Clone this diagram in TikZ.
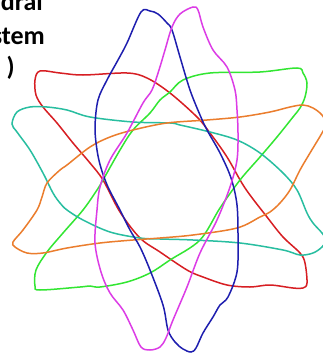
\documentclass[tikz,border=0pt]{standalone}
\usepackage{fontspec}
\setmainfont{Carlito}
\definecolor{cred}{RGB}{215,30,35}
\definecolor{cblue}{RGB}{30,30,175}
\definecolor{cmag}{RGB}{220,60,230}
\definecolor{cgreen}{RGB}{50,230,50}
\definecolor{ccyan}{RGB}{40,190,160}
\definecolor{corange}{RGB}{235,125,45}
\tikzset{lbl/.style={inner sep=0pt, anchor=base east, font=\fontsize{26}{31}\selectfont\bfseries}}
\begin{document}
\begin{tikzpicture}[x=1pt,y=-1pt]
\useasboundingbox (0,0) rectangle (322,353);
\fill[white] (0,0) rectangle (322,353);
\node[lbl] (t1) at (43,11) {edral};
\node[lbl] (t2) at (45,45) {stem};
\node[lbl] (t3) at (15,75) {)};
% red
\draw[cred, line width=1.5pt] plot[smooth cycle, tension=0.55] coordinates {(40,71) (60,73) (83,75) (127,73) (147,78) (170,93) (197,117) (210,133) (227,157) (245,188) (267,217) (283,237) (300,253) (305,263) (307,283) (303,288) (293,288) (270,285) (250,287) (227,285) (203,277) (187,270) (160,252) (140,238) (120,212) (103,180) (90,163) (73,143) (57,123) (43,107) (36,95) (35,80)};
% green
\draw[cgreen, line width=1.5pt] plot[smooth cycle, tension=0.55] coordinates {(297,68) (303,73) (307,83) (305,97) (300,108) (293,117) (277,137) (260,157) (240,180) (220,208) (200,240) (170,260) (150,273) (127,282) (100,287) (90,286) (80,287) (40,290) (35,286) (36,270) (47,252) (63,233) (83,210) (97,190) (103,180) (120,150) (133,130) (150,113) (160,100) (170,92) (183,80) (210,73) (260,72)};
% cyan
\draw[ccyan, line width=1.5pt] plot[smooth cycle, tension=0.55] coordinates {(12,124) (17,112) (30,107) (47,107) (67,110) (90,117) (133,122) (170,123) (180,125) (210,132) (237,140) (260,153) (283,173) (297,190) (307,213) (313,223) (322,233) (326,240) (322,247) (313,253) (300,255) (283,250) (240,243) (193,240) (160,239) (140,238) (110,232) (83,220) (67,210) (60,203) (53,193) (43,173) (30,150) (17,132)};
% orange
\draw[corange, line width=1.5pt] plot[smooth cycle, tension=0.55] coordinates {(13,242) (23,230) (37,210) (42,197) (47,183) (60,170) (67,165) (90,147) (110,137) (133,130) (167,123) (207,120) (240,117) (270,112) (290,107) (303,105) (313,108) (322,115) (326,124) (322,133) (310,153) (300,170) (290,190) (280,203) (270,212) (260,217) (237,228) (193,235) (160,238) (133,240) (100,243) (67,248) (43,253) (27,253) (15,247)};
% blue
\draw[cblue, line width=1.5pt] plot[smooth cycle, tension=0.55] coordinates {(141,12) (150,11) (158,14) (167,23) (172,30) (180,57) (190,90) (200,115) (207,130) (220,153) (231,178) (237,205) (238,240) (237,272) (228,297) (220,305) (213,317) (203,333) (196,348) (191,352) (183,349) (175,342) (168,330) (163,305) (150,270) (140,247) (130,230) (120,210) (108,187) (101,168) (97,150) (95,127) (98,100) (107,80) (118,60) (127,43)};
% magenta
\draw[cmag, line width=1.5pt] plot[smooth cycle, tension=0.55] coordinates {(193,7) (198,10) (203,27) (213,50) (227,67) (235,90) (237,110) (238,133) (237,160) (230,187) (217,220) (200,253) (187,287) (173,320) (166,338) (160,347) (150,350) (141,347) (133,330) (123,310) (110,293) (101,272) (95,243) (97,210) (100,187) (110,160) (127,133) (143,103) (152,90) (159,70) (165,50) (172,27) (180,14)};
\end{tikzpicture}
\end{document}
